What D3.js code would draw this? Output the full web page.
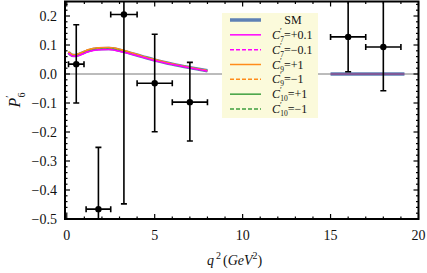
<!DOCTYPE html>
<html>
<head>
<meta charset="utf-8">
<script src="https://cdn.jsdelivr.net/npm/d3@7"></script>
<style>
	body { margin: 0; background: #fff; }
	svg text { font-family: "Liberation Serif", "DejaVu Serif", serif; fill: #111; }
</style>
</head>
<body>
<svg id="chart" width="427" height="273"></svg>
<script>
// measured bins (q2 low, q2 high), central value and errors
const binLo = [0.1, 1.1, 2.5, 4.0, 6.0, 15.0, 17.0];
const binHi = [0.98, 2.5, 4.0, 6.0, 8.0, 17.0, 19.0];
const binMid = [0.54, 1.8, 3.25, 5.0, 7.0, 16.0, 18.0];
const p6Val = [0.034, -0.466, 0.205, -0.032, -0.097, 0.128, 0.093];
const errUp = [0.136, 0.213, 0.16, 0.169, 0.137, 0.2, 0.2];
const errDn = [0.134, 0.2, 0.653, 0.167, 0.134, 0.12, 0.151];

// theory curves, low q2 region
const q2Grid = [0.1, 0.3, 0.5, 0.8, 1.2, 1.8, 2.4, 3.0, 3.6, 4.3, 5.0, 6.0, 7.0, 8.0];
const smCurve   = [0.074, 0.065, 0.064, 0.070, 0.080, 0.087, 0.088, 0.082, 0.072, 0.060, 0.048, 0.034, 0.022, 0.011];
const c7pCurve  = [0.071, 0.062, 0.061, 0.066, 0.076, 0.083, 0.084, 0.078, 0.069, 0.058, 0.046, 0.033, 0.021, 0.010];
const c7mCurve  = [0.072, 0.063, 0.062, 0.067, 0.077, 0.084, 0.085, 0.079, 0.070, 0.058, 0.046, 0.033, 0.021, 0.010];
const c9pCurve  = [0.077, 0.068, 0.067, 0.073, 0.084, 0.091, 0.092, 0.086, 0.075, 0.062, 0.050, 0.035, 0.023, 0.012];
const c9mCurve  = [0.076, 0.067, 0.066, 0.072, 0.083, 0.090, 0.091, 0.085, 0.074, 0.061, 0.049, 0.035, 0.023, 0.012];
const c10pCurve = [0.075, 0.066, 0.065, 0.071, 0.082, 0.089, 0.090, 0.084, 0.073, 0.061, 0.049, 0.034, 0.022, 0.011];
const c10mCurve = [0.073, 0.064, 0.063, 0.068, 0.078, 0.085, 0.086, 0.080, 0.071, 0.059, 0.047, 0.033, 0.021, 0.010];

// theory, high q2 region
const q2High = [15.0, 19.2];
const smHigh = [0.0, 0.0];

const yTicks = [0.2, 0.1, 0.0, -0.1, -0.2, -0.3, -0.4, -0.5];
const xTicks = [0, 5, 10, 15, 20];

const legendNames = [
	{ c: '', sub: '', val: 'SM' },
	{ c: 'C', sub: '7', val: '=+0.1' },
	{ c: 'C', sub: '7', val: '=\u22120.1' },
	{ c: 'C', sub: '9', val: '=+1' },
	{ c: 'C', sub: '9', val: '=\u22121' },
	{ c: 'C', sub: '10', val: '=+1' },
	{ c: 'C', sub: '10', val: '=\u22121' }
];

const series = [
	{ vals: smCurve, color: '#5e81b5', width: 3.5, dash: null },
	{ vals: c10mCurve, color: '#3f9f3f', width: 1.3, dash: '4,2' },
	{ vals: c10pCurve, color: '#3f9f3f', width: 1.3, dash: null },
	{ vals: c9mCurve, color: '#ff8c1a', width: 1.3, dash: '4,2' },
	{ vals: c9pCurve, color: '#ff8c1a', width: 1.3, dash: null },
	{ vals: c7mCurve, color: '#ff00ff', width: 1.3, dash: '4,2' },
	{ vals: c7pCurve, color: '#ff00ff', width: 1.3, dash: null }
];
const legendStyle = [series[0], series[6], series[5], series[4], series[3], series[2], series[1]];

const svg = d3.select('#chart');
const x = d3.scaleLinear().domain([-0.1, 20]).range([65, 418.5]);
const y = d3.scaleLinear().domain([-0.5, 0.25]).range([219, 1.5]);

svg.append('clipPath').attr('id', 'clip')
	.append('rect')
	.attr('x', x.range()[0]).attr('y', y.range()[1])
	.attr('width', x.range()[1] - x.range()[0])
	.attr('height', y.range()[0] - y.range()[1]);

const plot = svg.append('g').attr('clip-path', 'url(#clip)');

// zero line
plot.append('line')
	.attr('x1', x.range()[0]).attr('x2', x.range()[1])
	.attr('y1', y(0)).attr('y2', y(0))
	.attr('stroke', '#555').attr('stroke-width', 0.8);

const line = d3.line().x((d, i) => x(q2Grid[i])).y(d => y(d)).curve(d3.curveMonotoneX);

series.forEach(s => {
	plot.append('path')
		.attr('d', line(s.vals))
		.attr('fill', 'none')
		.attr('stroke', s.color)
		.attr('stroke-width', s.width)
		.attr('stroke-dasharray', s.dash);
});

// high q2 SM band
plot.append('line')
	.attr('x1', x(q2High[0])).attr('x2', x(q2High[1]))
	.attr('y1', y(smHigh[0])).attr('y2', y(smHigh[1]))
	.attr('stroke', '#5e81b5').attr('stroke-width', 3.5);
plot.append('line')
	.attr('x1', x(q2High[0])).attr('x2', x(q2High[1]))
	.attr('y1', y(smHigh[0])).attr('y2', y(smHigh[1]))
	.attr('stroke', '#a0307a').attr('stroke-width', 1);

// data points
const pts = plot.selectAll('g.pt')
	.data(binMid.map((m, i) => ({ m, lo: binLo[i], hi: binHi[i], v: p6Val[i], up: errUp[i], dn: errDn[i] })))
	.enter()
	.append('g').attr('class', 'pt');

pts.append('line')
	.attr('x1', d => x(d.m)).attr('x2', d => x(d.m))
	.attr('y1', d => y(d.v + d.up)).attr('y2', d => y(d.v - d.dn))
	.attr('stroke', '#000').attr('stroke-width', 1.6);
pts.append('line')
	.attr('x1', d => x(d.lo)).attr('x2', d => x(d.hi))
	.attr('y1', d => y(d.v)).attr('y2', d => y(d.v))
	.attr('stroke', '#000').attr('stroke-width', 1.6);
// caps
[d => y(d.v + d.up), d => y(d.v - d.dn)].forEach(fy => {
	pts.append('line')
		.attr('x1', d => x(d.m) - 3).attr('x2', d => x(d.m) + 3)
		.attr('y1', fy).attr('y2', fy)
		.attr('stroke', '#000').attr('stroke-width', 1.6);
});
[d => x(d.lo), d => x(d.hi)].forEach(fx => {
	pts.append('line')
		.attr('x1', fx).attr('x2', fx)
		.attr('y1', d => y(d.v) - 3).attr('y2', d => y(d.v) + 3)
		.attr('stroke', '#000').attr('stroke-width', 1.6);
});
pts.append('circle')
	.attr('cx', d => x(d.m)).attr('cy', d => y(d.v))
	.attr('r', 3.2).attr('fill', '#000');

// frame with ticks
const frame = svg.append('g');
const [x0, x1] = x.range();
const [yb, yt] = y.range();

const xMinor = d3.range(0, 21, 1);
const yMinor = d3.range(-0.5, 0.2501, 0.02);
xMinor.forEach(v => {
	const len = v % 5 === 0 ? 5 : 2.5;
	frame.append('line').attr('x1', x(v)).attr('x2', x(v)).attr('y1', yb).attr('y2', yb - len)
		.attr('stroke', '#000').attr('stroke-width', 1.2);
	frame.append('line').attr('x1', x(v)).attr('x2', x(v)).attr('y1', yt).attr('y2', yt + len)
		.attr('stroke', '#000').attr('stroke-width', 1.2);
});
yMinor.forEach(v => {
	const major = Math.abs(Math.round(v * 10) - v * 10) < 1e-6;
	const len = major ? 5 : 2.5;
	frame.append('line').attr('x1', x0).attr('x2', x0 + len).attr('y1', y(v)).attr('y2', y(v))
		.attr('stroke', '#000').attr('stroke-width', 1.2);
	frame.append('line').attr('x1', x1).attr('x2', x1 - len).attr('y1', y(v)).attr('y2', y(v))
		.attr('stroke', '#000').attr('stroke-width', 1.2);
});
frame.append('rect')
	.attr('x', x0).attr('y', yt).attr('width', x1 - x0).attr('height', yb - yt)
	.attr('fill', 'none').attr('stroke', '#000').attr('stroke-width', 2);

// tick labels
svg.selectAll('text.yt').data(yTicks).enter().append('text')
	.attr('class', 'yt')
	.attr('x', 57).attr('y', d => y(d) + 5)
	.attr('text-anchor', 'end').attr('font-size', 14)
	.text(d => d3.format('.1f')(d).replace('-', '\u2212'));

svg.selectAll('text.xt').data(xTicks).enter().append('text')
	.attr('class', 'xt')
	.attr('x', d => x(d)).attr('y', 240)
	.attr('text-anchor', 'middle').attr('font-size', 14)
	.text(d => d);

// axis labels
const yl = svg.append('text')
	.attr('transform', 'translate(20,100) rotate(-90)')
	.attr('text-anchor', 'middle').attr('font-size', 16);
yl.append('tspan').attr('font-style', 'italic').text('P');
yl.append('tspan').attr('font-size', 10).attr('dy', -7).text('\u2032');
yl.append('tspan').attr('font-size', 10).attr('dx', -2).attr('dy', 12).text('6');

const xl = svg.append('text')
	.attr('x', 207).attr('y', 265).attr('font-size', 14);
xl.append('tspan').attr('font-style', 'italic').text('q');
xl.append('tspan').attr('font-size', 10).attr('dy', -6).attr('dx', 2).text('2');
xl.append('tspan').attr('dy', 6).attr('dx', 2).text('(');
xl.append('tspan').attr('font-style', 'italic').text('GeV');
xl.append('tspan').attr('font-size', 10).attr('dy', -6).text('2');
xl.append('tspan').attr('dy', 6).text(')');

// legend
const leg = svg.append('g');
leg.append('rect')
	.attr('x', 222).attr('y', 13).attr('width', 96).attr('height', 105)
	.attr('fill', '#fbfadb');
const rowY = d3.scaleLinear().domain([0, 6]).range([20, 109]);
legendNames.forEach((n, i) => {
	const s = legendStyle[i];
	leg.append('line')
		.attr('x1', 230).attr('x2', 261)
		.attr('y1', rowY(i)).attr('y2', rowY(i))
		.attr('stroke', s.color)
		.attr('stroke-width', i === 0 ? 3.5 : 1.5)
		.attr('stroke-dasharray', s.dash);
	const t = leg.append('text').attr('font-size', 12).attr('y', rowY(i) + 4);
	if (n.c === '') {
		t.attr('x', 293).attr('text-anchor', 'middle').text(n.val);
	} else {
		t.attr('x', 272);
		t.append('tspan').attr('font-style', 'italic').text(n.c);
		t.append('tspan').attr('font-size', 8).attr('dy', -5).text('\u2032');
		t.append('tspan').attr('font-size', 7.5).attr('dx', -1.5).attr('dy', 8).text(n.sub);
		t.append('tspan').attr('dy', -3).text(n.val);
	}
});
</script>
</body>
</html>
